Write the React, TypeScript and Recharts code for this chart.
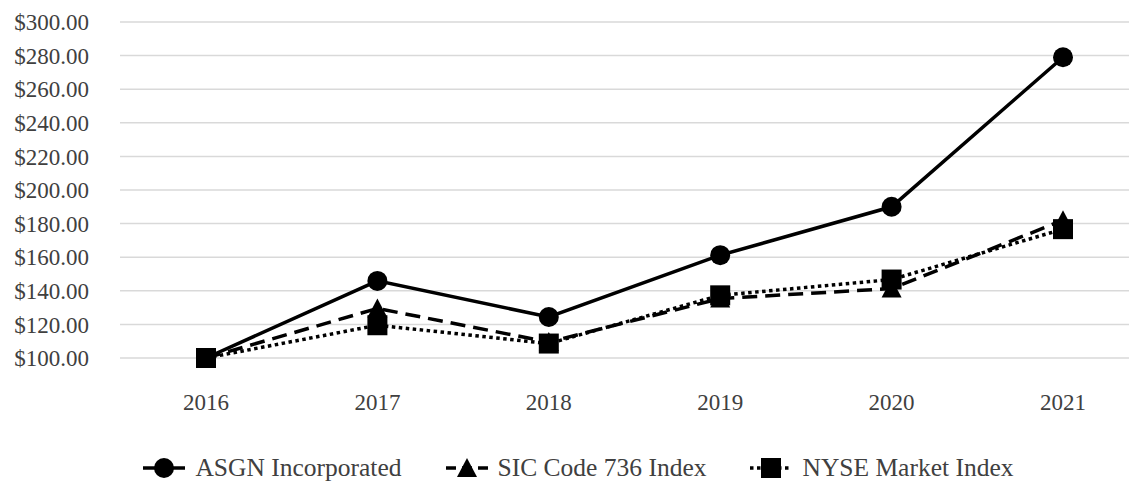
import React from 'react';
import { LineChart, Line, XAxis, YAxis, CartesianGrid, Legend } from 'recharts';

const years = ['2016', '2017', '2018', '2019', '2020', '2021'];
const asgnValues = [100, 145.9, 124.4, 161.2, 190, 279];
const sicValues = [100, 129.5, 109.5, 135.4, 141.3, 182];
const nyseValues = [100, 119.5, 108.6, 137.3, 146.7, 176.7];
const yTicks = [100, 120, 140, 160, 180, 200, 220, 240, 260, 280, 300];
const seriesNames = ['ASGN Incorporated', 'SIC Code 736 Index', 'NYSE Market Index'];

const data = years.map((y, i) => ({
  year: y,
  asgn: asgnValues[i],
  sic: sicValues[i],
  nyse: nyseValues[i],
}));

const FONT = '"Liberation Serif", "Times New Roman", serif';
const TEXT = '#404040';

const Triangle = (props: any) => {
  const { cx, cy, index } = props;
  if (cx == null || cy == null) return <g key={`t-${index}`} />;
  return (
    <path
      key={`t-${index}`}
      d={`M${cx},${cy - 10} L${cx + 10},${cy + 9} L${cx - 10},${cy + 9} Z`}
      fill="#000"
    />
  );
};

const Square = (props: any) => {
  const { cx, cy, index } = props;
  if (cx == null || cy == null) return <g key={`s-${index}`} />;
  return <rect key={`s-${index}`} x={cx - 10} y={cy - 10} width={20} height={20} fill="#000" />;
};

const LegendIcon = ({ kind }: { kind: number }) => (
  <svg width={42} height={22} style={{ display: 'block' }}>
    {kind === 0 && <line x1={0} y1={11} x2={42} y2={11} stroke="#000" strokeWidth={3.5} />}
    {kind === 1 && <line x1={0} y1={11} x2={42} y2={11} stroke="#000" strokeWidth={3.5} strokeDasharray="10 6" />}
    {kind === 2 && <line x1={0} y1={11} x2={42} y2={11} stroke="#000" strokeWidth={3.5} strokeDasharray="3.5 3.5" />}
    {kind === 0 && <circle cx={21} cy={11} r={10} fill="#000" />}
    {kind === 1 && <path d="M21,1 L31,20 L11,20 Z" fill="#000" />}
    {kind === 2 && <rect x={11} y={1} width={20} height={20} fill="#000" />}
  </svg>
);

const renderLegend = () => (
  <div
    style={{
      display: 'flex',
      justifyContent: 'center',
      alignItems: 'center',
      height: 30,
      fontFamily: FONT,
      fontSize: 25.5,
      color: TEXT,
    }}
  >
    {seriesNames.map((name, i) => (
      <div
        key={name}
        style={{ display: 'flex', alignItems: 'center', marginRight: i < seriesNames.length - 1 ? 44 : 0 }}
      >
        <LegendIcon kind={i} />
        <span style={{ marginLeft: 10, whiteSpace: 'nowrap' }}>{name}</span>
      </div>
    ))}
  </div>
);

export default function App() {
  return (
    <div style={{ width: 1129, overflow: 'hidden' }}>
      <LineChart
        width={1141}
        height={475}
        data={data}
        margin={{ top: 14, right: 0, bottom: 0, left: 0 }}
      >
        <CartesianGrid vertical={false} stroke="#d9d9d9" strokeWidth={1.5} />
        <XAxis
          dataKey="year"
          axisLine={false}
          tickLine={false}
          height={95}
          tickMargin={30}
          padding={{ left: 86, right: 86 }}
          tick={{ fill: TEXT, fontSize: 23, fontFamily: FONT }}
        />
        <YAxis
          domain={[100, 300]}
          ticks={yTicks}
          axisLine={false}
          tickLine={false}
          width={112}
          tickMargin={25}
          interval={0}
          tickFormatter={(v: number) => `$${v.toFixed(2)}`}
          tick={{ fill: TEXT, fontSize: 23, fontFamily: FONT }}
        />
        <Legend verticalAlign="bottom" content={renderLegend} />
        <Line
          dataKey="asgn"
          name={seriesNames[0]}
          stroke="#000"
          strokeWidth={3.5}
          dot={{ r: 10, fill: '#000', stroke: '#000', strokeWidth: 0 }}
          isAnimationActive={false}
        />
        <Line
          dataKey="sic"
          name={seriesNames[1]}
          stroke="#000"
          strokeWidth={3.5}
          strokeDasharray="15 8"
          dot={Triangle}
          isAnimationActive={false}
        />
        <Line
          dataKey="nyse"
          name={seriesNames[2]}
          stroke="#000"
          strokeWidth={3.5}
          strokeDasharray="3.5 3.5"
          dot={Square}
          isAnimationActive={false}
        />
      </LineChart>
    </div>
  );
}
